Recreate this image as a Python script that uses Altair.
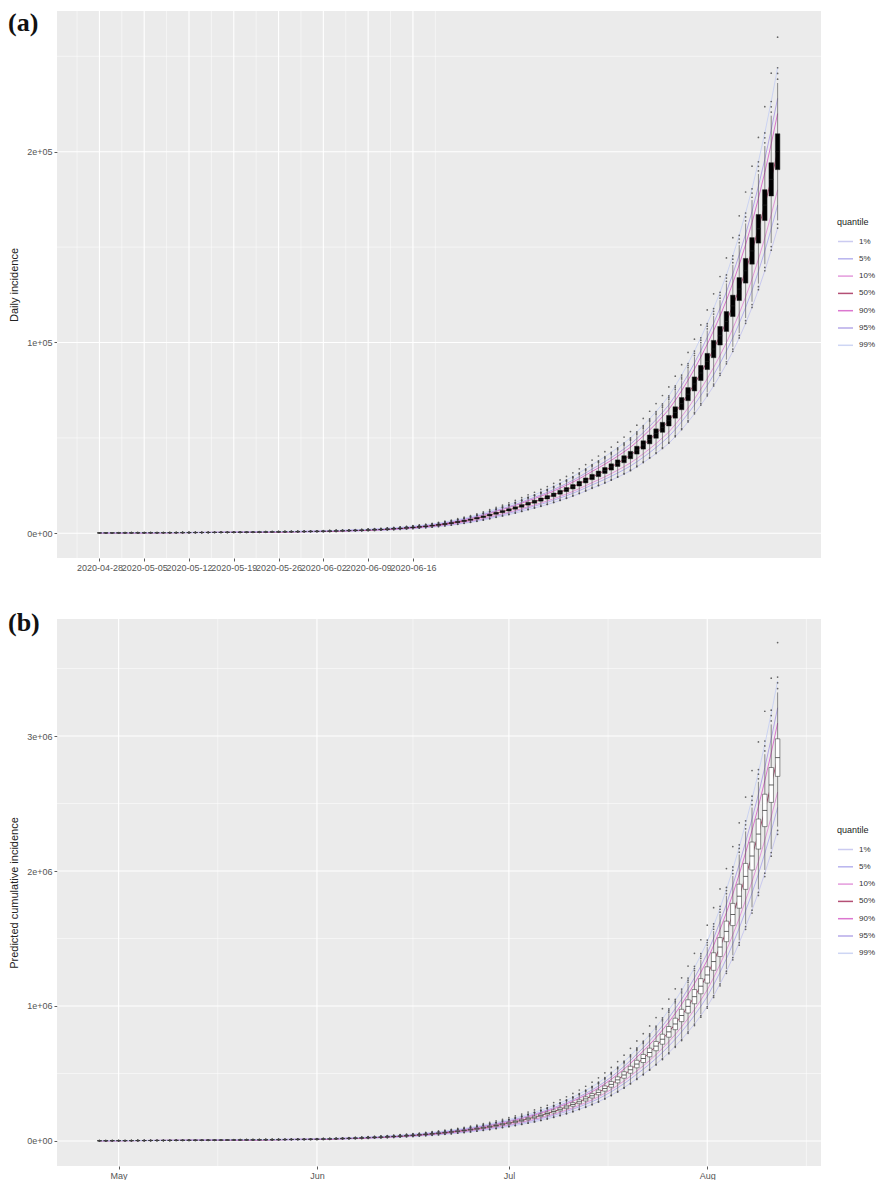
import altair as alt
import pandas as pd

# day index 0 = 2020-04-28, one box per day up to 2020-08-12
DAYS = list(range(107))

daily_median = [
    200, 210, 220, 230, 240, 250, 265, 275, 290, 300,
    315, 330, 345, 365, 380, 400, 415, 435, 455, 480,
    500, 525, 550, 580, 610, 640, 675, 710, 745, 785,
    825, 865, 910, 955, 1000, 1070, 1150, 1230, 1320, 1410,
    1510, 1620, 1740, 1870, 2000, 2180, 2380, 2590, 2830, 3080,
    3360, 3670, 4000, 4410, 4860, 5350, 5900, 6500, 7160, 7880,
    8680, 9550, 10500, 11350, 12270, 13260, 14340, 15500, 16550, 17670,
    18860, 20140, 21500, 22900, 24400, 26000, 27700, 29500, 31160, 32920,
    34780, 36740, 38810, 41000, 43570, 46300, 49200, 52280, 55550, 59000,
    63320, 67960, 72930, 78270, 84000, 90060, 96560, 103530, 111000, 119200,
    128000, 137600, 148000, 159600, 172000, 185500, 200000]

cumulative_median = [
    2000, 2200, 2400, 2600, 2800, 3000, 3200, 3450, 3700, 3950,
    4200, 4450, 4700, 4950, 5250, 5550, 5850, 6150, 6450, 6800,
    7150, 7500, 7850, 8200, 8600, 9000, 9400, 9800, 10250, 10700,
    11200, 11700, 12200, 12700, 13300, 14360, 15510, 16750, 18090, 19540,
    21100, 22790, 24610, 26580, 28710, 31000, 33480, 36160, 39050, 42180,
    45550, 49200, 53130, 57380, 61970, 66930, 72290, 78070, 84320, 91060,
    98350, 106200, 114700, 123900, 133000, 142800, 153300, 164600, 176700, 189700,
    203700, 218700, 234800, 252100, 270700, 290600, 312000, 335000, 360000, 388600,
    419500, 452900, 488900, 527800, 570000, 611300, 655500, 703000, 753900, 808500,
    867000, 929800, 997100, 1069300, 1146700, 1230000, 1329300, 1436600, 1552500, 1677800,
    1813200, 1960000, 2111000, 2273600, 2448700, 2637300, 2840000]

QUANTILES = ["1%", "5%", "10%", "50%", "90%", "95%", "99%"]
QUANTILE_COLORS = ["#c3c3ef", "#aca7ec", "#e08ad6", "#a8325e", "#d760c8", "#aa9be6", "#c6cff3"]

# quantile level relative to the median
daily_q_ratio = [0.80, 0.86, 0.90, 1.00, 1.10, 1.14, 1.22]
cum_q_ratio = [0.81, 0.87, 0.91, 1.00, 1.09, 1.13, 1.20]
daily_box_ratio = [0.953, 1.047]
cum_box_ratio = [0.951, 1.049]
daily_whisker_ratio = [0.82, 1.18]
cum_whisker_ratio = [0.82, 1.17]
daily_outlier_ratio = [0.80, 0.81, 1.19, 1.205, 1.22, 1.30]
cum_outlier_ratio = [0.80, 0.81, 1.18, 1.195, 1.21, 1.30]

A_X_TICKS = [0, 7, 14, 21, 28, 35, 42, 49]
A_X_LABELS = ["2020-04-28", "2020-05-05", "2020-05-12", "2020-05-19",
              "2020-05-26", "2020-06-02", "2020-06-09", "2020-06-16"]
A_X_MINOR = [-3.5, 3.5, 10.5, 17.5, 24.5, 31.5, 38.5, 45.5, 52.5]
A_Y_TICKS = [0, 100000, 200000]
A_Y_MINOR = [50000, 150000, 250000]

B_X_TICKS = [3, 34, 64, 95]
B_X_LABELS = ["May", "Jun", "Jul", "Aug"]
B_X_MINOR = [18.5, 49, 79.5, 110.5]
B_Y_TICKS = [0, 1000000, 2000000, 3000000]
B_Y_MINOR = [500000, 1500000, 2500000, 3500000]

X_DOMAIN = [-5.85, 112.0]
W, H = 764, 547


def panel(med, qr, boxr, whr, outr, ydomain, yticks, yminor, xticks, xlabels, xminor,
          ytitle, tag, tag_y, box_fill):
    box = pd.DataFrame({
        "day": DAYS,
        "med": med,
        "q25": [m * boxr[0] for m in med],
        "q75": [m * boxr[1] for m in med],
        "wlo": [m * whr[0] for m in med],
        "whi": [m * whr[1] for m in med],
    })
    lines = pd.DataFrame([{"day": d, "quantile": q, "v": m * r}
                          for q, r in zip(QUANTILES, qr) for d, m in zip(DAYS, med)])
    outs = pd.DataFrame([{"day": d, "v": m * r} for d, m in zip(DAYS, med) for r in outr])

    xs = alt.Scale(domain=X_DOMAIN, nice=False, zero=False)
    ys = alt.Scale(domain=ydomain, nice=False, zero=False)
    lab = " : ".join(f"datum.value == {v} ? '{t}'" for v, t in zip(xticks, xlabels)) + " : ''"
    xaxis = alt.Axis(values=xticks, labelExpr=lab, grid=False, domain=False, ticks=True,
                     tickSize=3, tickColor="#333333", tickWidth=0.8, labelFontSize=9,
                     labelColor="#555555", labelPadding=2, labelOverlap=False,
                     labelBound=False, labelFlush=False, title=None)
    yaxis = alt.Axis(values=yticks,
                     labelExpr="replace(format(datum.value, '.0e'), 'e+', 'e+0')",
                     grid=False, domain=False, ticks=True, tickSize=3, tickColor="#333333",
                     tickWidth=0.8, labelFontSize=9, labelColor="#555555", labelPadding=2,
                     title=ytitle, titleX=-38, titleY=H / 2, titleFontSize=11,
                     titleFontWeight="normal", titleColor="#222222", titleBaseline="bottom")

    X = lambda f: alt.X(f, type="quantitative", scale=xs, axis=xaxis, title=None)
    Y = lambda f: alt.Y(f, type="quantitative", scale=ys, axis=yaxis, title=ytitle)

    gy_major = alt.Chart(pd.DataFrame({"v": yticks})).mark_rule(color="white", strokeWidth=1.1).encode(y=Y("v"))
    gy_minor = alt.Chart(pd.DataFrame({"v": yminor})).mark_rule(color="white", strokeWidth=0.5).encode(y=Y("v"))
    gx_major = alt.Chart(pd.DataFrame({"day": xticks})).mark_rule(color="white", strokeWidth=1.1).encode(x=X("day"))
    gx_minor = alt.Chart(pd.DataFrame({"day": xminor})).mark_rule(color="white", strokeWidth=0.5).encode(x=X("day"))

    qlines = alt.Chart(lines).mark_line(strokeWidth=1, opacity=0.85).encode(
        x=X("day"), y=Y("v"),
        color=alt.Color("quantile:N", sort=QUANTILES,
                        scale=alt.Scale(domain=QUANTILES, range=QUANTILE_COLORS),
                        legend=alt.Legend(title="quantile", orient="none", legendX=780, legendY=207,
                                          symbolType="stroke", symbolSize=225, symbolStrokeWidth=1.5,
                                          labelFontSize=8, labelColor="#333333", titleFontSize=9,
                                          titleFontWeight="normal", titleColor="#222222",
                                          titlePadding=6, rowPadding=4.3, padding=0, labelOffset=5)))
    whisk = alt.Chart(box).mark_rule(color="#444444", strokeWidth=0.6).encode(
        x=X("day"), y=Y("wlo"), y2="whi")
    boxes = alt.Chart(box).mark_bar(size=4.5, fill=box_fill, stroke="#222222", strokeWidth=0.5).encode(
        x=X("day"), y=Y("q25"), y2="q75")
    medt = alt.Chart(box).mark_tick(orient="horizontal", size=4.5, thickness=1, color="#222222").encode(
        x=X("day"), y=Y("med"))
    pts = alt.Chart(outs).mark_circle(size=3, color="#444444", opacity=0.8).encode(x=X("day"), y=Y("v"))
    label = alt.Chart(pd.DataFrame({"t": [tag]})).mark_text(
        font="Liberation Serif", fontSize=26, fontWeight="bold", align="left",
        baseline="alphabetic", color="#111111").encode(
        x=alt.value(-49), y=alt.value(tag_y), text="t:N")

    return alt.layer(gy_minor, gy_major, gx_minor, gx_major, qlines, whisk, boxes, medt, pts, label
                     ).properties(width=W, height=H)


pa = panel(daily_median, daily_q_ratio, daily_box_ratio, daily_whisker_ratio, daily_outlier_ratio,
           [-12950, 273740], A_Y_TICKS, A_Y_MINOR, A_X_TICKS, A_X_LABELS, A_X_MINOR,
           "Daily incidence", "(a)", 19.5, "#000000")
pb = panel(cumulative_median, cum_q_ratio, cum_box_ratio, cum_whisker_ratio, cum_outlier_ratio,
           [-185200, 3866700], B_Y_TICKS, B_Y_MINOR, B_X_TICKS, B_X_LABELS, B_X_MINOR,
           "Predicted cumulative incidence", "(b)", 12, "#ffffff")

chart = alt.vconcat(pa, pb, spacing=61, bounds="flush").resolve_scale(color="independent").properties(
    padding={"left": 0, "top": 1, "right": 0, "bottom": 0}
).configure(font="Liberation Sans").configure_view(fill="#EBEBEB", strokeWidth=0)

chart.save("out.html", embed_options={"renderer": "svg", "actions": False})
